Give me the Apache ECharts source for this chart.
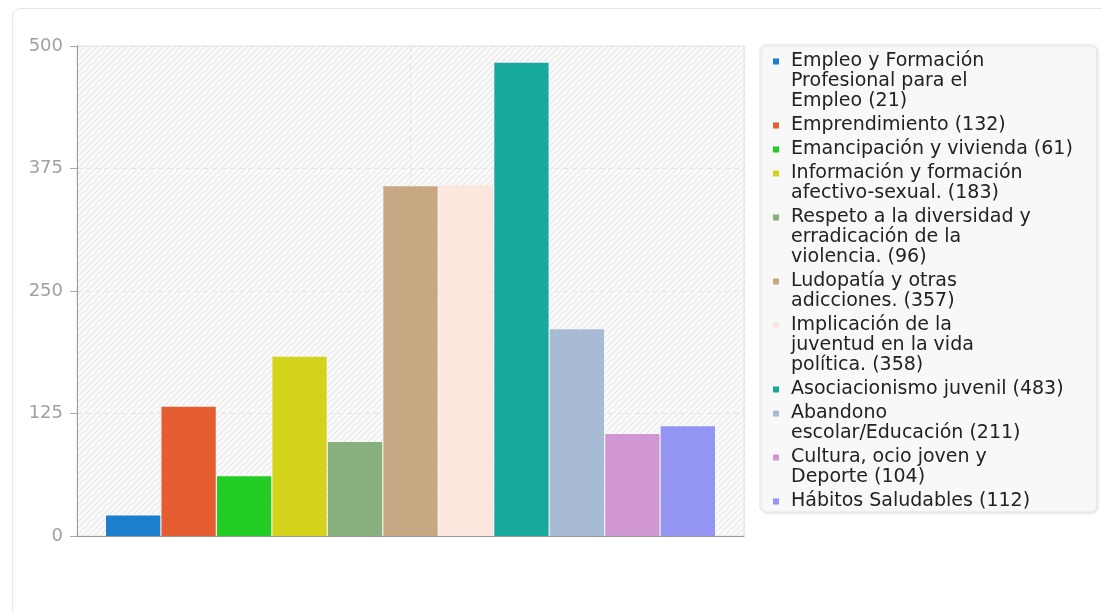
<!DOCTYPE html>
<html>
<head>
<meta charset="utf-8">
<script src="https://cdn.jsdelivr.net/npm/echarts@6/dist/echarts.min.js"></script>
<style>
  html, body { margin: 0; padding: 0; background: #ffffff; }
  #chart { width: 1102px; height: 612px; }
</style>
</head>
<body>
<div id="chart"></div>
<script>
// ---- data ----
const categories = [
  'Empleo y Formación Profesional para el Empleo',
  'Emprendimiento',
  'Emancipación y vivienda',
  'Información y formación afectivo-sexual.',
  'Respeto a la diversidad y erradicación de la violencia.',
  'Ludopatía y otras adicciones.',
  'Implicación de la juventud en la vida política.',
  'Asociacionismo juvenil',
  'Abandono escolar/Educación',
  'Cultura, ocio joven y Deporte',
  'Hábitos Saludables'
];
const values = [21, 132, 61, 183, 96, 357, 358, 483, 211, 104, 112];
const legendLines = [
  ['Empleo y Formación', 'Profesional para el', 'Empleo (21)'],
  ['Emprendimiento (132)'],
  ['Emancipación y vivienda (61)'],
  ['Información y formación', 'afectivo-sexual. (183)'],
  ['Respeto a la diversidad y', 'erradicación de la', 'violencia. (96)'],
  ['Ludopatía y otras', 'adicciones. (357)'],
  ['Implicación de la', 'juventud en la vida', 'política. (358)'],
  ['Asociacionismo juvenil (483)'],
  ['Abandono', 'escolar/Educación (211)'],
  ['Cultura, ocio joven y', 'Deporte (104)'],
  ['Hábitos Saludables (112)']
];
const yTicks = [0, 125, 250, 375, 500];
const colors = ['#1b7fce', '#e55d30', '#22cc22', '#d3d31c', '#88b07e', '#c8a882',
                '#fbe7de', '#17a89e', '#a7bbd5', '#d197d4', '#9494f2'];

// ---- hatched background pattern ----
const pc = document.createElement('canvas');
pc.width = 6; pc.height = 6;
const g = pc.getContext('2d');
g.fillStyle = '#fafafa';
g.fillRect(0, 0, 6, 6);
g.strokeStyle = '#eaeaea';
g.lineWidth = 1.2;
g.beginPath();
g.moveTo(-1, 1); g.lineTo(1, -1);
g.moveTo(0, 6); g.lineTo(6, 0);
g.moveTo(5, 7); g.lineTo(7, 5);
g.stroke();

const FONT = 'DejaVu Sans';
const LH = 20;
const rich = {
  t: { fontFamily: FONT, fontSize: 19, lineHeight: LH, color: '#222222' },
  s: { width: 12, height: 6, lineHeight: LH },
  p: { width: 18, height: 6, lineHeight: LH }
};
colors.forEach((c, i) => {
  rich['m' + i] = { width: 6, height: 6, backgroundColor: c, lineHeight: LH, verticalAlign: 'middle' };
});

const series = categories.map((name, i) => ({
  name: name,
  type: 'bar',
  data: [values[i]],
  barGap: '2.2%',
  barCategoryGap: '8.7%',
  itemStyle: { color: colors[i] },
  emphasis: { disabled: true }
}));

const chart = echarts.init(document.getElementById('chart'), null, { renderer: 'canvas' });
chart.setOption({
  animation: false,
  backgroundColor: '#ffffff',
  graphic: [{
    type: 'rect',
    shape: { x: 12.5, y: 8.5, width: 1110, height: 620, r: 8 },
    style: { fill: 'none', stroke: '#e6e6e6', lineWidth: 1 },
    silent: true,
    z: -10
  }],
  grid: {
    left: 77, right: 358, top: 46, bottom: 76,
    show: true,
    backgroundColor: { image: pc, repeat: 'repeat' },
    borderColor: '#e2e2e2',
    borderWidth: 1
  },
  legend: {
    orient: 'vertical',
    left: 760, top: 45,
    padding: [7, 24, 1, 8],
    itemGap: 5,
    itemWidth: 0,
    itemHeight: 6,
    icon: 'none',
    selectedMode: false,
    backgroundColor: '#f8f8f8',
    borderColor: '#e6e6e6',
    borderWidth: 1,
    borderRadius: 6,
    shadowBlur: 3,
    shadowColor: 'rgba(0,0,0,0.10)',
    shadowOffsetX: 1,
    shadowOffsetY: 1,
    data: categories,
    textStyle: { fontFamily: FONT, fontSize: 19, color: '#222222', rich: rich },
    formatter: function (name) {
      const i = categories.indexOf(name);
      return legendLines[i].map((ln, k) =>
        (k === 0 ? '{m' + i + '|}{s|}' : '{p|}') + '{t|' + ln + '}'
      ).join('\n');
    }
  },
  xAxis: [{
    type: 'category',
    data: [''],
    axisLine: { show: true, lineStyle: { color: '#999999', width: 1 } },
    axisTick: { show: false },
    axisLabel: { show: false },
    splitLine: { show: false }
  }, {
    type: 'value',
    min: 0, max: 2, interval: 1,
    position: 'top',
    axisLine: { show: false },
    axisTick: { show: false },
    axisLabel: { show: false },
    splitLine: { show: true, lineStyle: { color: '#e4e4e4', type: [5, 4], width: 1 } }
  }],
  yAxis: {
    type: 'value',
    min: yTicks[0], max: yTicks[yTicks.length - 1], interval: 125,
    axisLine: { show: true, lineStyle: { color: '#999999', width: 1 } },
    axisTick: { show: true, length: 7, lineStyle: { color: '#aaaaaa' } },
    axisLabel: { color: '#a0a0a0', fontSize: 18, fontFamily: FONT, margin: 14 },
    splitLine: { show: true, lineStyle: { color: '#e4e4e4', type: [5, 4], width: 1 } }
  },
  series: series
});
</script>
</body>
</html>
